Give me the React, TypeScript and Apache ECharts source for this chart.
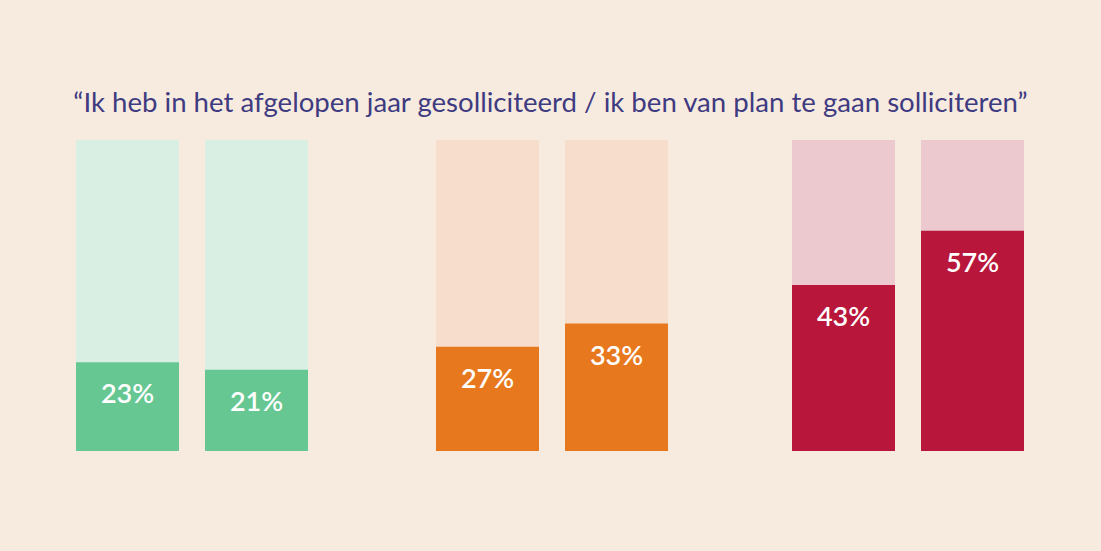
import React, { useEffect, useRef } from "react";
import * as echarts from "echarts";

const titleText = "“Ik heb in het afgelopen jaar gesolliciteerd / ik ben van plan te gaan solliciteren”";
const groupNames = ["Groep 1", "Groep 2", "Groep 3"];
const categories = [["A", "B"], ["A", "B"], ["A", "B"]];
const values = [[23, 21], [27, 33], [43, 57]];
const scaleMax = 80.5;
const darkColors = ["#66c793", "#e8781e", "#b8163a"];
const lightColors = ["#daefe4", "#f6ddcc", "#ebc9cf"];
const gridLefts = [63, 423, 779];

export default function App() {
  const ref = useRef<HTMLDivElement>(null);
  useEffect(() => {
    if (!ref.current) return;
    const chart = echarts.init(ref.current, undefined, { renderer: "svg" });
    const grids = gridLefts.map((left) => ({ left, width: 258, top: 140, bottom: 100 }));
    const xAxis = categories.map((cats, i) => ({
      type: "category",
      gridIndex: i,
      data: cats,
      show: false,
    }));
    const yAxis = categories.map((_, i) => ({
      type: "value",
      gridIndex: i,
      min: 0,
      max: scaleMax,
      show: false,
      splitLine: { show: false },
    }));
    const series: any[] = [];
    values.forEach((vals, i) => {
      series.push({
        type: "bar",
        name: groupNames[i] + " achtergrond",
        xAxisIndex: i,
        yAxisIndex: i,
        data: vals.map(() => scaleMax),
        barWidth: 103,
        barGap: "-100%",
        itemStyle: { color: lightColors[i] },
        silent: true,
      });
      series.push({
        type: "bar",
        name: groupNames[i],
        xAxisIndex: i,
        yAxisIndex: i,
        data: vals,
        barWidth: 103,
        barGap: "-100%",
        itemStyle: { color: darkColors[i] },
        label: {
          show: true,
          position: "insideTop",
          distance: 17,
          formatter: "{c}%",
          color: "#ffffff",
          fontFamily: "Lato",
          fontWeight: 600,
          fontSize: 27,
        },
      });
    });
    chart.setOption({
      animation: false,
      backgroundColor: "#f7ebe0",
      title: {
        text: titleText,
        left: "center",
        top: 82,
        textStyle: {
          color: "#3f3b80",
          fontFamily: "Lato",
          fontWeight: 400,
          fontSize: 27.6,
        },
      },
      grid: grids,
      xAxis,
      yAxis,
      series,
    });
    return () => chart.dispose();
  }, []);
  return <div ref={ref} style={{ width: 1101, height: 551, position: "absolute", left: 0, top: 0 }} />;
}
